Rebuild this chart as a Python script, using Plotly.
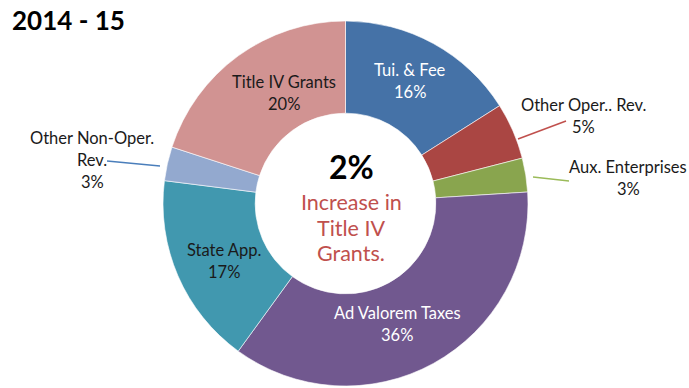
import plotly.graph_objects as go

# Revenue sources, FY 2014-15 (percent of total)
labels = ["Tui. & Fee", "Other Oper.. Rev.", "Aux. Enterprises", "Ad Valorem Taxes",
          "State App.", "Other Non-Oper. Rev.", "Title IV Grants"]
values = [16, 5, 3, 36, 17, 3, 20]
colors = ["#4572A7", "#AA4643", "#89A54E", "#71588F", "#4198AF", "#93A9CF", "#D19392"]

# label lines as drawn (name may wrap), and their placement in pixels
name_lines = [["Tui. & Fee"], ["Other Oper.. Rev."], ["Aux. Enterprises"], ["Ad Valorem Taxes"],
              ["State App."], ["Other Non-Oper.", "Rev."], ["Title IV Grants"]]
label_xy = [(410, 70), (583, 105), (628, 167), (397, 313), (224, 250), (92, 138), (284, 82)]
label_color = ["white", "#1a1a1a", "#1a1a1a", "white", "#1a1a1a", "#1a1a1a", "#1a1a1a"]

# leader lines for the outside labels: (colour, x0, y0, x1, y1)
leaders = [("#C0504D", 566, 121, 518, 139), ("#9BBB59", 569, 181, 533, 177),
           ("#4A7EBB", 107, 161, 160, 166)]

W, H = 689, 388
FONT = "Lato, 'Open Sans', sans-serif"
LINE = 22

fig = go.Figure()
fig.add_trace(go.Pie(
    labels=labels, values=values, sort=False, direction="clockwise", rotation=0,
    hole=0.495, textinfo="none", hoverinfo="label+percent",
    marker=dict(colors=colors, line=dict(color="white", width=0.6)),
    domain=dict(x=[163 / W, 528 / W], y=[1 - 386 / H, 1 - 21 / H]),
    showlegend=False,
))

annotations = []
for names, v, (x, y), c in zip(name_lines, values, label_xy, label_color):
    lines = names + [f"{v}%"]
    for i, t in enumerate(lines):
        annotations.append(dict(x=x, y=y + i * LINE, xref="x", yref="y", text=t,
                                showarrow=False, font=dict(family=FONT, size=16.5, color=c)))

shapes = [dict(type="line", xref="x", yref="y", x0=x0, y0=y0, x1=x1, y1=y1,
               line=dict(color=c, width=1.5)) for c, x0, y0, x1, y1 in leaders]

# center message
annotations.append(dict(x=351, y=166, xref="x", yref="y", text="<b>2%</b>", showarrow=False,
                        font=dict(family=FONT, size=32, color="black")))
for i, t in enumerate(["Increase in", "Title IV", "Grants."]):
    annotations.append(dict(x=351, y=202 + i * 25.5, xref="x", yref="y", text=t, showarrow=False,
                            font=dict(family=FONT, size=21.5, color="#C0504D")))

# title
annotations.append(dict(x=10, y=20, xref="x", yref="y", xanchor="left", text="<b>2014 - 15</b>",
                        showarrow=False, font=dict(family=FONT, size=26, color="black")))

fig.update_layout(
    width=W, height=H, margin=dict(l=0, r=0, t=0, b=0),
    paper_bgcolor="white", plot_bgcolor="rgba(0,0,0,0)",
    xaxis=dict(range=[0, W], visible=False, fixedrange=True),
    yaxis=dict(range=[H, 0], visible=False, fixedrange=True),
    annotations=annotations, shapes=shapes,
)

fig.write_html("out.html", config={"displayModeBar": False})
